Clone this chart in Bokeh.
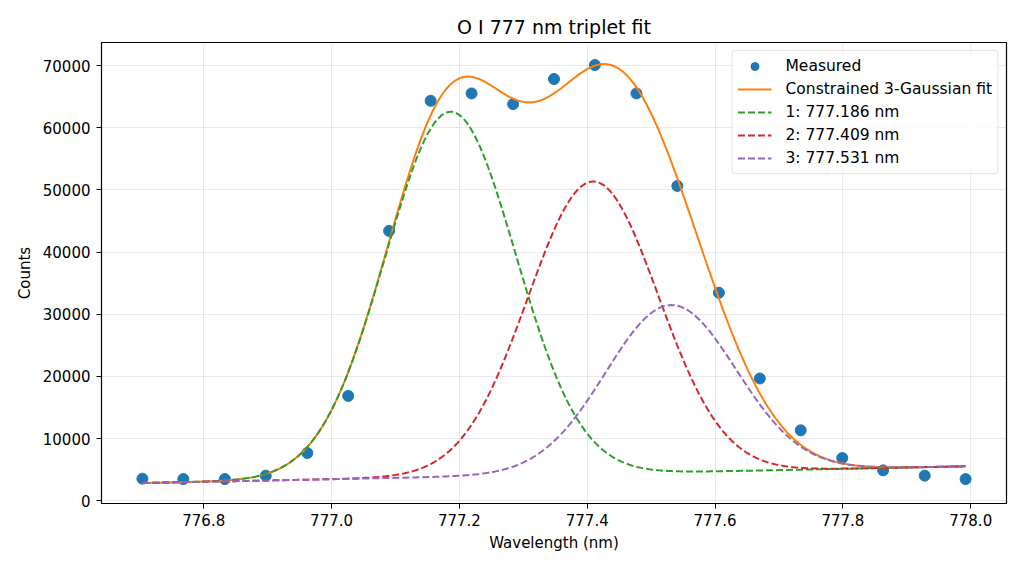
import numpy as np
from bokeh.plotting import figure
from bokeh.models import Range1d, FixedTicker, PrintfTickFormatter, Legend, LegendItem
from bokeh.embed import file_html
from bokeh.resources import INLINE

wavelength = [776.704, 776.768, 776.833, 776.897, 776.962, 777.026, 777.090,
              777.155, 777.219, 777.284, 777.348, 777.412, 777.477, 777.541,
              777.606, 777.670, 777.734, 777.799, 777.863, 777.928, 777.992]
counts = [3575, 3510, 3510, 4060, 7700, 16880, 43400,
          64330, 65510, 63800, 67830, 70080, 65510, 50640,
          33460, 19680, 11350, 6890, 4910, 4060, 3510]

# Fit parameters
centers = [777.186, 777.409, 777.531]
amplitudes = [58680, 47000, 26880]
sigmas = [0.102, 0.102, 0.102]
baseline_x = [776.704, 777.992]
baseline_y = [2870, 5560]
component_labels = ["1: 777.186 nm", "2: 777.409 nm", "3: 777.531 nm"]
component_colors = ["#2ca02c", "#d62728", "#9467bd"]

x_ticks = [776.8, 777.0, 777.2, 777.4, 777.6, 777.8, 778.0]
y_ticks = [0, 10000, 20000, 30000, 40000, 50000, 60000, 70000]

FONT = "DejaVu Sans"
FS = "15px"

xf = np.linspace(baseline_x[0], baseline_x[1], 600)
base = np.interp(xf, baseline_x, baseline_y)
comps = [a * np.exp(-(xf - c) ** 2 / (2 * s ** 2)) for c, a, s in zip(centers, amplitudes, sigmas)]
total = base + sum(comps)

p = figure(width=1024, height=569, output_backend="svg", toolbar_location=None,
           x_range=Range1d(776.640, 778.056), y_range=Range1d(-420, 73700),
           min_border_left=101, min_border_right=18, min_border_top=42, min_border_bottom=66)

p.title.text = "O I 777 nm triplet fit"
p.title.align = "center"
p.title.text_font = FONT
p.title.text_font_size = "19px"
p.title.text_font_style = "normal"
p.title.text_color = "black"

r_meas = p.scatter(wavelength, counts, size=11, color="#1f77b4", line_color="#1f77b4")
r_fit = p.line(xf, total, line_color="#ff7f0e", line_width=2)
r_comps = []
for comp, col in zip(comps, component_colors):
    r_comps.append(p.line(xf, base + comp, line_color=col, line_width=2, line_dash="7 3"))

legend = Legend(items=[LegendItem(label="Measured", renderers=[r_meas]),
                       LegendItem(label="Constrained 3-Gaussian fit", renderers=[r_fit])] +
                      [LegendItem(label=l, renderers=[r]) for l, r in zip(component_labels, r_comps)],
                location="top_right")
legend.label_text_font = FONT
legend.label_text_font_size = "15.5px"
legend.label_text_color = "black"
legend.glyph_width = 34
legend.glyph_height = 20
legend.label_height = 20
legend.spacing = 3
legend.padding = 5
legend.margin = 8
legend.label_standoff = 14
legend.border_line_color = "#cccccc"
legend.border_line_width = 1
legend.background_fill_alpha = 0.8
try:
    legend.border_radius = 4
except Exception:
    pass
p.add_layout(legend)

p.xaxis.ticker = FixedTicker(ticks=x_ticks)
p.yaxis.ticker = FixedTicker(ticks=y_ticks)
p.xaxis.formatter = PrintfTickFormatter(format="%.1f")
p.yaxis.formatter = PrintfTickFormatter(format="%d")
p.xaxis.axis_label = "Wavelength (nm)"
p.yaxis.axis_label = "Counts"
for ax in (p.xaxis, p.yaxis):
    ax.axis_label_text_font = FONT
    ax.axis_label_text_font_size = FS
    ax.axis_label_text_font_style = "normal"
    ax.axis_label_text_color = "black"
    ax.major_label_text_font = FONT
    ax.major_label_text_font_size = FS
    ax.major_label_text_color = "black"
    ax.major_tick_out = 5
    ax.major_tick_in = 0
    ax.minor_tick_line_color = None
    ax.axis_line_color = "black"
    ax.major_tick_line_color = "black"
p.xaxis.major_label_standoff = 5
p.yaxis.major_label_standoff = 6
p.xaxis.axis_label_standoff = 5
p.yaxis.axis_label_standoff = 6

p.grid.grid_line_color = "#b0b0b0"
p.grid.grid_line_alpha = 0.35
p.grid.grid_line_width = 0.8
p.outline_line_color = "black"
p.outline_line_width = 1.2
p.outline_line_alpha = 1

open("out.html", "w").write(file_html(p, INLINE))
